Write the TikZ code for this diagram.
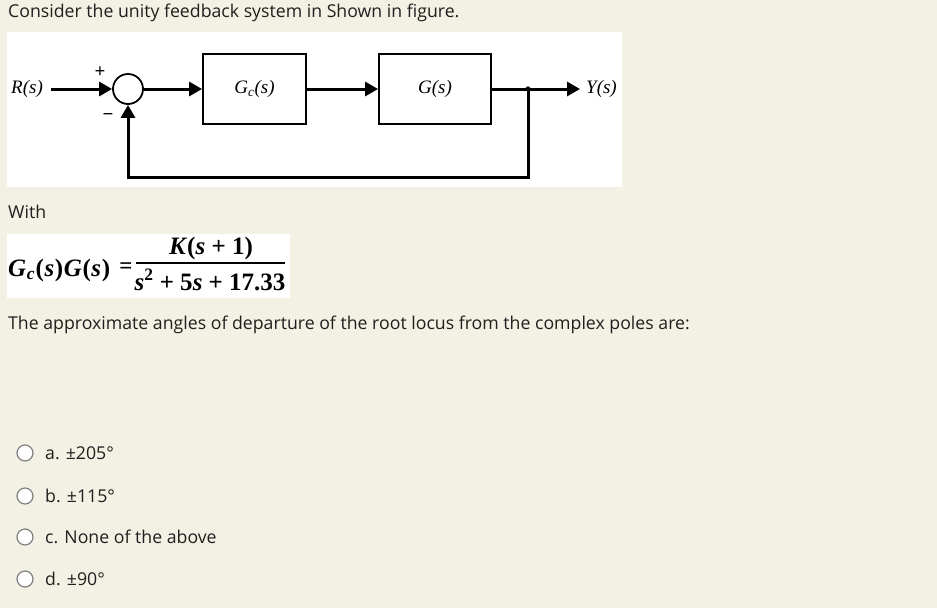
\documentclass[tikz,border=0pt]{standalone}
\usepackage{fontspec}
\setmainfont{Open Sans}
\newfontfamily\timesfont{Liberation Serif}
\usepackage{tikz}
\usetikzlibrary{positioning,arrows.meta,calc}
\definecolor{pagebg}{HTML}{F3F1E4}
\definecolor{uitext}{HTML}{1F1F1F}
\definecolor{radiogray}{HTML}{7F7F7F}
\newcommand{\vr}[1]{\textit{#1}}
\begin{document}
\begin{tikzpicture}[x=1pt,y=-1pt,
    blk/.style={draw,line width=1.8pt,minimum height=70pt,inner sep=0pt,font=\timesfont\itshape\fontsize{19}{21}\selectfont},
    lbl/.style={inner sep=0pt,font=\timesfont\itshape\fontsize{19}{21}\selectfont},
    sgn/.style={inner sep=0pt,font=\timesfont\bfseries\fontsize{19}{21}\selectfont},
    sig/.style={line width=3pt,-{Triangle[length=13pt,width=14pt]}},
    ui/.style={anchor=base west,inner sep=0pt,text=uitext,font=\fontsize{17.7}{21}\selectfont},
    ff/.style={inner sep=0pt,font=\timesfont\bfseries\fontsize{25}{29}\selectfont},
    radio/.style={circle,draw=radiogray,fill=white,line width=1.2pt,minimum size=16pt,inner sep=0pt}]

    \useasboundingbox[fill=pagebg] (0,0) rectangle (937,608);

    %% question header
     \node (head) [ui] at (8,17) {Consider the unity feedback system in Shown in figure.};

    %% block diagram
     \fill[white] (7,32) rectangle (622,187);
     \node (sum) [circle,draw,line width=1.8pt,minimum size=30pt,inner sep=0pt] at (128,89) {};
     \node (rin) [lbl,anchor=west] at (11,89) {R(s)};
     \node (gc) [blk,minimum width=103pt] at (254.5,89) {G\textsubscript{c}(s)};
     \node (g) [blk,minimum width=112pt] at (435,89) {G(s)};
     \node (yout) [lbl,anchor=west] at (586,89) {Y(s)};
     \node (plus) [sgn] at (100,72) {+};
     \node (minus) [sgn] at (108,117) {−};
     \coordinate (br) at (528,89);
     \coordinate (fbr) at (528,177);
     \coordinate (fbl) at (128,177);

     \draw[sig, shorten <=8pt] (rin) -- (sum);
     \draw[sig] (sum) -- (gc);
     \draw[sig] (gc) -- (g);
     \draw[sig, shorten >=6pt] (g) -- (yout);
     \fill (br) circle (2.6pt);
     \draw[sig] (br) -- (fbr) -- (fbl) -- (sum);

    %% loop transfer function
     \node (with) [ui] at (8,218) {With};
     \fill[white] (7,234) rectangle (290,298);
     \node (lhs) [ff,anchor=base west] at (8,276) {\vr{G}\kern0.6pt\textsubscript{\vr{c}}\kern0.6pt(\kern0.6pt\vr{s}\kern0.6pt)\kern0.6pt\vr{G}\kern0.6pt(\kern0.6pt\vr{s}\kern0.6pt)};
     \node (eq) [inner sep=0pt,font=\timesfont\bfseries\fontsize{23}{26}\selectfont] at (126,268) {=};
     \node (num) [ff,anchor=base] at (211,254) {\vr{K}(\vr{s} + 1)};
     \node (den) [ff,anchor=base] at (210,290) {\vr{s}\textsuperscript{2} + 5\vr{s} + 17.33};
     \coordinate (barl) at (136,263);
     \coordinate (barr) at (285,263);
     \draw[line width=1.2pt] (barl) -- (barr);

    %% question and choices
     \node (quest) [ui] at (8,329) {The approximate angles of departure of the root locus from the complex poles are:};

     \node (rada) [radio] at (25,453) {};
     \node (opta) [ui] at (45,459) {a. ±205°};
     \node (radb) [radio] at (25,496) {};
     \node (optb) [ui] at (45,502) {b. ±115°};
     \node (radc) [radio] at (25,537) {};
     \node (optc) [ui] at (45,543) {c. None of the above};
     \node (radd) [radio] at (25,579) {};
     \node (optd) [ui] at (45,585) {d. ±90°};

    \end{tikzpicture}
\end{document}
